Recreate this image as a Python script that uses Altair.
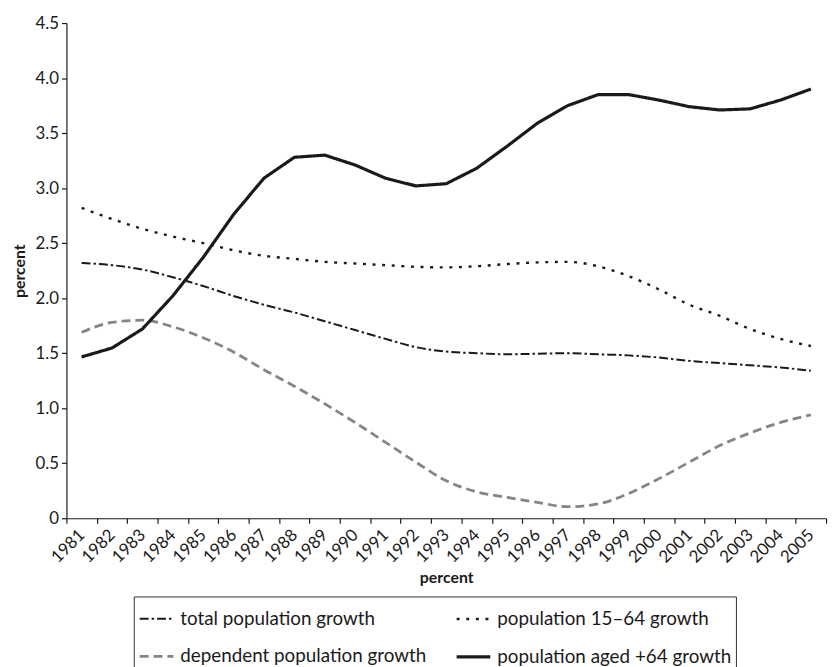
import altair as alt
import pandas as pd

years = [str(y) for y in range(1981, 2006)]

total_growth = [2.32, 2.30, 2.26, 2.19, 2.11, 2.02, 1.94, 1.87, 1.79, 1.71, 1.63, 1.555, 1.515,
                1.50, 1.49, 1.495, 1.50, 1.49, 1.48, 1.46, 1.43, 1.41, 1.39, 1.37, 1.34]
working_growth = [2.82, 2.72, 2.63, 2.56, 2.50, 2.435, 2.385, 2.357, 2.33, 2.315, 2.30, 2.285, 2.28,
                  2.29, 2.31, 2.325, 2.33, 2.29, 2.20, 2.08, 1.94, 1.84, 1.72, 1.63, 1.565]
dependent_growth = [1.69, 1.78, 1.80, 1.74, 1.64, 1.51, 1.35, 1.20, 1.04, 0.87, 0.69, 0.51, 0.34,
                    0.24, 0.19, 0.144, 0.105, 0.13, 0.225, 0.36, 0.51, 0.66, 0.775, 0.87, 0.94]
aged_growth = [1.466, 1.547, 1.72, 2.02, 2.37, 2.76, 3.09, 3.28, 3.30, 3.21, 3.09, 3.02, 3.04,
               3.18, 3.38, 3.59, 3.75, 3.85, 3.85, 3.80, 3.74, 3.71, 3.72, 3.80, 3.90]

series_names = ["total population growth", "population 15\u201364 growth",
                "dependent population growth", "population aged +64 growth"]
series_values = [total_growth, working_growth, dependent_growth, aged_growth]

rows = []
for name, vals in zip(series_names, series_values):
    for y, v in zip(years, vals):
        rows.append({"year": y, "value": v, "series": name})
df = pd.DataFrame(rows)

FONT = "Lato"

color = alt.Color("series:N",
                  scale=alt.Scale(domain=series_names,
                                  range=["#1a1a1a", "#1a1a1a", "#858585", "#1a1a1a"]),
                  legend=alt.Legend(title=None, orient="none", legendX=68, legendY=579,
                                    columns=2, columnPadding=23, rowPadding=9,
                                    symbolType="stroke", symbolSize=1156,
                                    symbolStrokeWidth=2, labelFontSize=19, labelFont=FONT,
                                    labelColor="#1a1a1a", labelOffset=5, labelLimit=400,
                                    strokeColor="#333333", padding=4, direction="horizontal"))
dash = alt.StrokeDash("series:N",
                      scale=alt.Scale(domain=series_names,
                                      range=[[9, 3, 2.5, 3], [3, 6.7], [9, 5], [1, 0]]),
                      legend=alt.Legend(title=None))
width_enc = alt.StrokeWidth("series:N",
                            scale=alt.Scale(domain=series_names, range=[2, 3.2, 2, 2]),
                            legend=alt.Legend(title=None))

x = alt.X("year:O", scale=alt.Scale(type="band", paddingInner=0, paddingOuter=0),
          axis=alt.Axis(title="percent", labelAngle=-45, labelAlign="right",
                        labelBaseline="middle", tickBand="extent", labelPadding=9,
                        tickSize=5, titlePadding=4))
y = alt.Y("value:Q", scale=alt.Scale(domain=[0, 4.5], nice=False, zero=True),
          axis=alt.Axis(title="percent", values=[0, 0.5, 1, 1.5, 2, 2.5, 3, 3.5, 4, 4.5],
                        labelExpr="datum.value == 0 ? '0' : format(datum.value, '.1f')",
                        tickSize=5, labelPadding=3, titlePadding=8, grid=False))

smooth = alt.Chart(df).transform_filter(
    alt.datum.series != "population aged +64 growth"
).mark_line(interpolate="monotone").encode(x=x, y=y, color=color, strokeDash=dash,
                                            strokeWidth=width_enc)
straight = alt.Chart(df).transform_filter(
    alt.datum.series == "population aged +64 growth"
).mark_line(interpolate="linear").encode(x=x, y=y, color=color, strokeDash=dash,
                                          strokeWidth=width_enc)

chart = alt.layer(smooth, straight).properties(
    width=767, height=500,
    autosize=alt.AutoSizeParams(type="none"),
    padding={"left": 59, "top": 12, "right": 6, "bottom": 147},
).configure_view(stroke=None).configure_axis(
    labelFont=FONT, labelFontSize=17, labelColor="#1a1a1a",
    titleFont=FONT, titleFontSize=16, titleFontWeight="bold", titleColor="#1a1a1a",
    domainColor="#1a1a1a", tickColor="#1a1a1a", domainWidth=1.2, tickWidth=1.2, grid=False
).configure_legend(labelFont=FONT)

chart.save("out.html", embed_options={"renderer": "svg", "actions": False})
